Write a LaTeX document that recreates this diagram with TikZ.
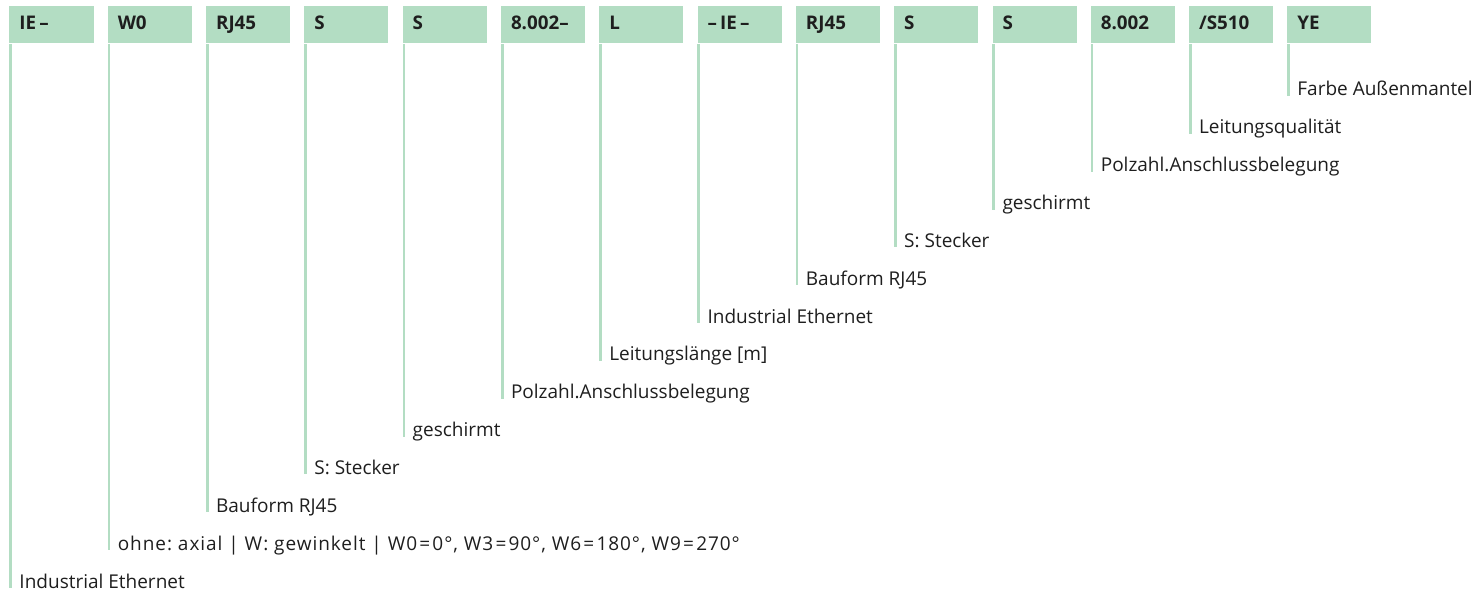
\documentclass[tikz,border=0pt]{standalone}
\usepackage{fontspec}
\setmainfont{Open Sans}
\definecolor{boxgreen}{RGB}{179,221,195}
\definecolor{txt}{RGB}{30,30,30}
\newcommand{\eqs}{\kern2.2bp=\kern2.2bp}
\begin{document}
\frenchspacing
\begin{tikzpicture}[x=1bp,y=-1bp,
  codebox/.style={anchor=north west, fill=boxgreen, draw=none, inner xsep=10bp, inner ysep=0pt,
    text width=64bp, align=left, text height=23.5bp, text depth=13.5bp,
    font=\fontsize{18.8bp}{20bp}\selectfont\bfseries, text=txt},
  desc/.style={anchor=base west, inner sep=0pt, font=\fontsize{19bp}{20bp}\selectfont\frenchspacing, text=txt},
  leader/.style={draw=boxgreen, line width=2.7bp}]
\useasboundingbox (0,0) rectangle (1481,595);
\foreach \t [count=\n from 0] in {IE\,–,W0,RJ45,S,S,8.002–,L,–\,IE\,–,RJ45,S,S,8.002,/S510,YE}{
  \node[codebox] (b\n) at ({9.3+\n*98.3},6) {\t};
}
\foreach \t [count=\n from 0] in {Industrial Ethernet,
  {\addfontfeature{LetterSpace=5}ohne: axial | W: gewinkelt | W0\eqs 0°, W3\eqs 90°, W6\eqs 180°, W9\eqs 270°},
  Bauform RJ45, S: Stecker, geschirmt, Polzahl.Anschlussbelegung, Leitungslänge [m],
  Industrial Ethernet, Bauform RJ45, S: Stecker, geschirmt, Polzahl.Anschlussbelegung,
  Leitungsqualität, Farbe Außenmantel}{
  \node[desc] (l\n) at ({19.3+\n*98.3},{588-\n*37.85}) {\t};
  \draw[leader] ([xshift=1.35bp,yshift=-1bp]b\n.south west) -- ([xshift=1.35bp]b\n.south west |- l\n.base);
}
\end{tikzpicture}
\end{document}
